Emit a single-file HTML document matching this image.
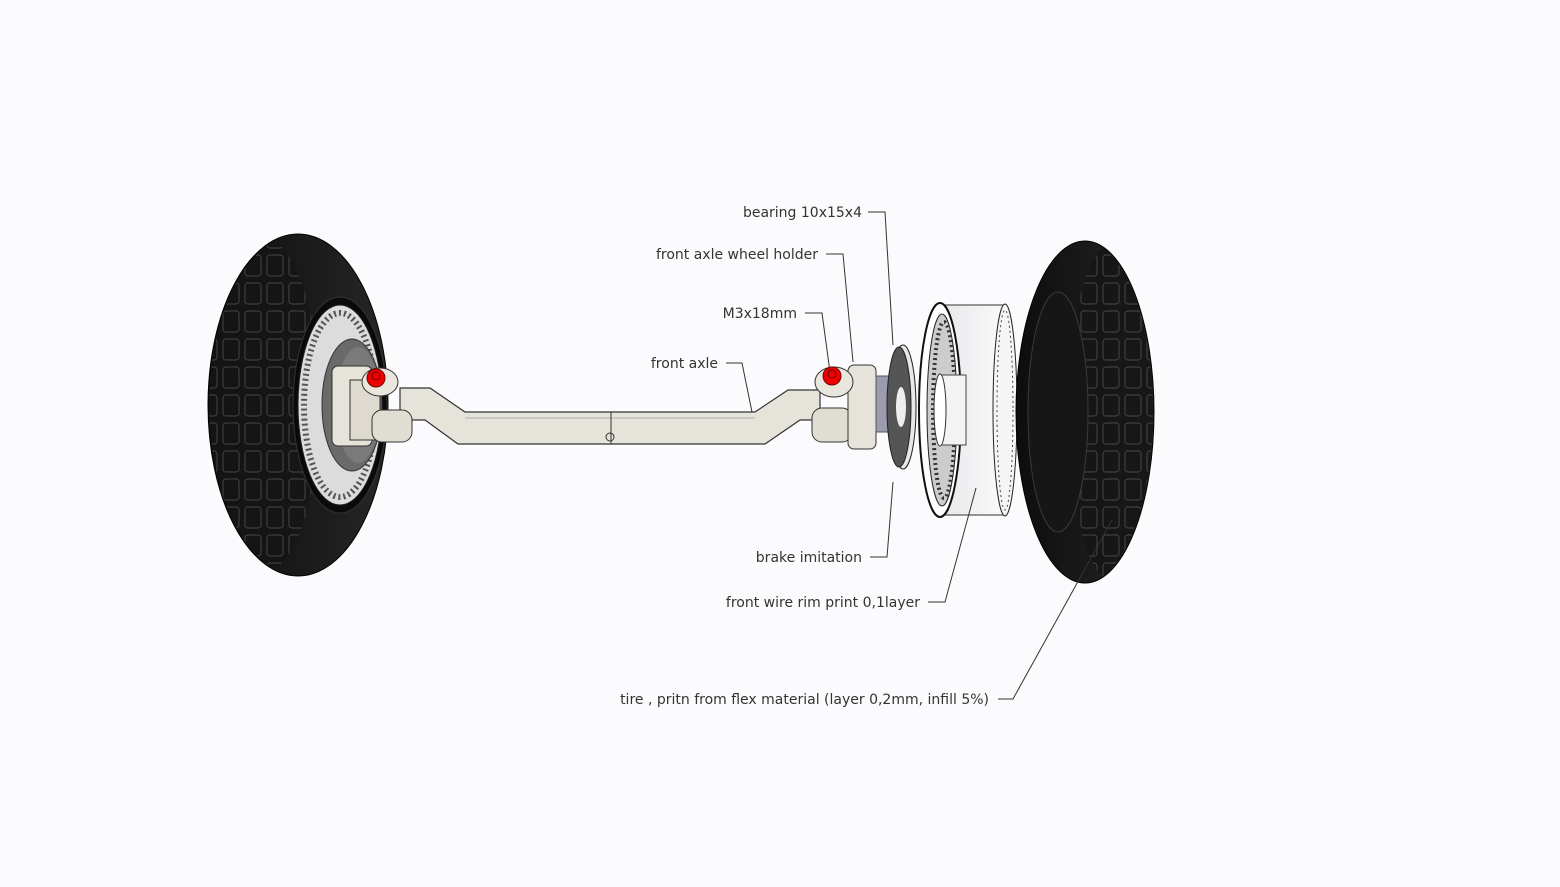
<!DOCTYPE html>
<html><head><style>
html,body{margin:0;padding:0;background:#fbfbfd;}
svg{display:block}
text{font-family:"DejaVu Sans","Liberation Sans",sans-serif;font-size:14px;fill:#333}
</style></head><body>
<svg width="1560" height="887" viewBox="0 0 1560 887">
<defs>
<pattern id="tread" width="22" height="28" patternUnits="userSpaceOnUse">
<rect width="22" height="28" fill="#151515"/>
<rect x="3" y="3" width="16" height="21" rx="3" fill="none" stroke="#444" stroke-width="1.2"/>
</pattern>
<linearGradient id="tg" x1="0" x2="1"><stop offset="0" stop-color="#0d0d0d"/><stop offset="1" stop-color="#262626"/></linearGradient>
<linearGradient id="rimg" x1="0" x2="1"><stop offset="0" stop-color="#e8e8ec"/><stop offset="1" stop-color="#fafafa"/></linearGradient>
<clipPath id="cl"><ellipse cx="298" cy="405" rx="89" ry="170"/></clipPath>
<clipPath id="cr"><ellipse cx="1085" cy="412" rx="68" ry="170"/></clipPath>
</defs>
<rect width="1560" height="887" fill="#fbfbfd"/>

<!-- LEFT WHEEL -->
<ellipse cx="298" cy="405" rx="90" ry="171" fill="url(#tg)" stroke="#000"/>
<g clip-path="url(#cl)"><ellipse cx="262" cy="405" rx="58" ry="168" fill="url(#tread)" opacity="0.85"/></g>
<ellipse cx="340" cy="405" rx="47" ry="108" fill="#0a0a0a" stroke="#333"/>
<ellipse cx="340" cy="405" rx="42" ry="100" fill="#dcdcdc" stroke="#222"/>
<ellipse cx="340" cy="405" rx="36" ry="92" fill="none" stroke="#555" stroke-width="6" stroke-dasharray="2 3"/>
<ellipse cx="352" cy="405" rx="30" ry="66" fill="#6a6a6a" stroke="#333"/>
<ellipse cx="358" cy="405" rx="22" ry="58" fill="#7a7a7a"/>

<!-- AXLE BEAM -->
<polygon points="400,388 430,388 465,412 755,412 788,390 820,390 820,420 800,420 765,444 458,444 425,420 400,420" fill="#e6e3da" stroke="#333" stroke-width="1.2"/>
<line x1="465" y1="418" x2="755" y2="418" stroke="#999" stroke-width="0.8"/>
<line x1="611" y1="412" x2="611" y2="444" stroke="#333"/>
<circle cx="610" cy="437" r="4" fill="none" stroke="#333"/>

<!-- LEFT KNUCKLE -->
<rect x="332" y="366" width="40" height="80" rx="6" fill="#e6e3da" stroke="#333"/>
<rect x="350" y="380" width="30" height="60" fill="#dedad0" stroke="#333"/>
<rect x="372" y="410" width="40" height="32" rx="10" fill="#e0ddd3" stroke="#333"/>
<ellipse cx="380" cy="382" rx="18" ry="14" fill="#e9e6de" stroke="#333"/>
<circle cx="376" cy="378" r="9" fill="#e00" stroke="#700"/>
<circle cx="376" cy="376" r="4" fill="none" stroke="#600"/>

<!-- RIGHT KNUCKLE -->
<rect x="812" y="408" width="40" height="34" rx="10" fill="#e0ddd3" stroke="#333"/>
<rect x="848" y="365" width="28" height="84" rx="6" fill="#e6e3da" stroke="#333"/>
<ellipse cx="834" cy="382" rx="19" ry="15" fill="#e9e6de" stroke="#333"/>
<circle cx="832" cy="376" r="9" fill="#e00" stroke="#700"/>
<circle cx="832" cy="374" r="4" fill="none" stroke="#600"/>
<rect x="876" y="376" width="18" height="56" fill="#9c9cb0" stroke="#555"/>

<!-- BRAKE DISC -->
<ellipse cx="903" cy="407" rx="13" ry="62" fill="#e8e8e8" stroke="#222"/>
<ellipse cx="899" cy="407" rx="12" ry="60" fill="#555" stroke="#222"/>
<ellipse cx="901" cy="407" rx="5" ry="20" fill="#eee"/>

<!-- RIM -->
<polygon points="940,305 1005,305 1005,515 940,515" fill="url(#rimg)"/>
<ellipse cx="1005" cy="410" rx="12" ry="106" fill="#f5f5f5" stroke="#222"/>
<ellipse cx="1005" cy="410" rx="8" ry="100" fill="none" stroke="#444" stroke-dasharray="2 3"/>
<line x1="940" y1="305" x2="1003" y2="305" stroke="#333"/>
<line x1="940" y1="515" x2="1003" y2="515" stroke="#333"/>
<ellipse cx="940" cy="410" rx="21" ry="107" fill="#fff" stroke="#111" stroke-width="2"/>
<ellipse cx="942" cy="410" rx="15" ry="96" fill="#ccc" stroke="#222"/>
<ellipse cx="944" cy="410" rx="11" ry="88" fill="none" stroke="#333" stroke-width="4" stroke-dasharray="2 3"/>
<rect x="940" y="375" width="26" height="70" fill="#f3f3f3" stroke="#444"/>
<ellipse cx="940" cy="410" rx="6" ry="36" fill="#fff" stroke="#333"/>

<!-- RIGHT TIRE -->
<ellipse cx="1085" cy="412" rx="69" ry="171" fill="url(#tg)" stroke="#000"/>
<g clip-path="url(#cr)"><ellipse cx="1112" cy="412" rx="44" ry="168" fill="url(#tread)" opacity="0.85"/></g>
<ellipse cx="1058" cy="412" rx="30" ry="120" fill="#161616" stroke="#3a3a3a"/>

<!-- LEADERS -->
<g fill="none" stroke="#333" stroke-width="1">
<polyline points="868,212 885,212 893,345"/>
<polyline points="826,254 843,254 853,362"/>
<polyline points="805,313 822,313 830,372"/>
<polyline points="726,363 742,363 752,412"/>
<polyline points="870,557 887,557 893,482"/>
<polyline points="928,602 945,602 976,488"/>
<polyline points="998,699 1013,699 1112,520"/>
</g>

<text x="862" y="217" text-anchor="end">bearing 10x15x4</text>
<text x="818" y="259" text-anchor="end">front axle wheel holder</text>
<text x="797" y="318" text-anchor="end">M3x18mm</text>
<text x="718" y="368" text-anchor="end">front axle</text>
<text x="862" y="562" text-anchor="end">brake imitation</text>
<text x="920" y="607" text-anchor="end">front wire rim print 0,1layer</text>
<text x="989" y="704" text-anchor="end">tire , pritn from flex material (layer 0,2mm, infill 5%)</text>
</svg>
</body></html>
